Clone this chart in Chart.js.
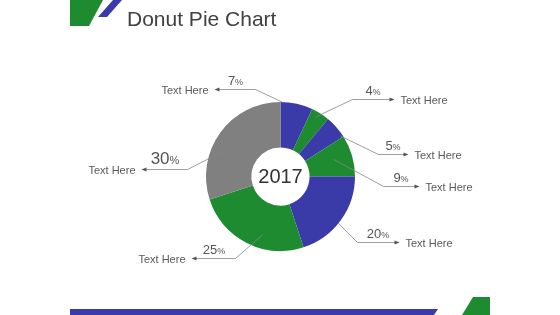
<!DOCTYPE html>
<html><head><meta charset="utf-8">
<script src="https://cdn.jsdelivr.net/npm/chart.js@4.4.1/dist/chart.umd.min.js"></script>
<style>html,body{margin:0;padding:0;background:#fff;overflow:hidden}#wrap{position:relative;width:560px;height:315px}</style>
</head><body><div id="wrap"><canvas id="c" width="560" height="315"></canvas></div>
<script>
// ---- data ----
const chartTitle = 'Donut Pie Chart';
const centerLabel = '2017';
const categories = ['Text Here', 'Text Here', 'Text Here', 'Text Here', 'Text Here', 'Text Here', 'Text Here'];
const values = [7, 4, 5, 9, 20, 25, 30];

// ---- style / layout ----
const BLUE = '#3a3aa8', GREEN = '#1f8b30', GRAY = '#808080';
const sliceColors = [BLUE, GREEN, BLUE, GREEN, BLUE, GREEN, GRAY];
// leader: t = position within slice, r = fraction of outer radius, elbow relative to centre, len = horizontal run
const leaders = [
  { t: 0.05, r: 1.0, ex: -25, ey: -87, len: -40, big: false },
  { t: 0.38, r: 0.93, ex: 72, ey: -77, len: 41, big: false },
  { t: 0.9, r: 0.97, ex: 98, ey: -22, len: 29, big: false },
  { t: 0.45, r: 0.75, ex: 103, ey: 10, len: 35, big: false },
  { t: 0.54, r: 0.99, ex: 77, ey: 66, len: 41, big: false },
  { t: 0.39, r: 0.82, ex: -45, ey: 82, len: -43, big: false },
  { t: 0.42, r: 0.80, ex: -93, ey: -7, len: -45, big: true }
];
const FONT = '"Liberation Sans", Arial, sans-serif';

const decor = {
  id: 'decor',
  beforeDraw(chart) {
    const ctx = chart.ctx;
    ctx.save();
    const poly = (pts, col) => { ctx.beginPath(); ctx.moveTo(pts[0][0], pts[0][1]); for (let i = 1; i < pts.length; i++) ctx.lineTo(pts[i][0], pts[i][1]); ctx.closePath(); ctx.fillStyle = col; ctx.fill(); };
    poly([[70, 0], [103, 0], [89, 26], [70, 26]], GREEN);
    poly([[113, 0], [122, 0], [107, 17], [98, 17]], BLUE);
    poly([[70, 309], [438, 309], [434, 315], [70, 315]], BLUE);
    poly([[462, 315], [473, 297], [490, 297], [490, 315]], GREEN);
    ctx.fillStyle = '#404040';
    ctx.font = '21px ' + FONT;
    ctx.textBaseline = 'alphabetic';
    ctx.textAlign = 'left';
    ctx.fillText(chartTitle, 127, 26);
    ctx.restore();
  },
  afterDraw(chart) {
    const ctx = chart.ctx;
    const meta = chart.getDatasetMeta(0);
    ctx.save();
    meta.data.forEach((arc, i) => {
      const L = leaders[i];
      const a = arc.startAngle + (arc.endAngle - arc.startAngle) * L.t;
      const sx = arc.x + Math.cos(a) * arc.outerRadius * L.r;
      const sy = arc.y + Math.sin(a) * arc.outerRadius * L.r;
      const exx = arc.x + L.ex, eyy = arc.y + L.ey;
      const endx = exx + L.len;
      ctx.strokeStyle = '#858585';
      ctx.lineWidth = 0.8;
      ctx.beginPath();
      ctx.moveTo(sx, sy); ctx.lineTo(exx, eyy); ctx.lineTo(endx, eyy);
      ctx.stroke();
      const dir = Math.sign(L.len);
      ctx.fillStyle = '#555';
      ctx.beginPath();
      ctx.moveTo(endx + dir * 1, eyy);
      ctx.lineTo(endx - dir * 4, eyy - 2);
      ctx.lineTo(endx - dir * 4, eyy + 2);
      ctx.closePath(); ctx.fill();
      // category text
      ctx.fillStyle = '#595959';
      ctx.font = '11px ' + FONT;
      ctx.textBaseline = 'middle';
      ctx.textAlign = dir > 0 ? 'left' : 'right';
      ctx.fillText(categories[i], endx + dir * 7, eyy + 1);
      // percentage
      const num = String(values[i]);
      const nf = (L.big ? 17 : 13) + 'px ' + FONT;
      const pf = (L.big ? 11 : 9) + 'px ' + FONT;
      ctx.font = nf; const nw = ctx.measureText(num).width;
      ctx.font = pf; const pw = ctx.measureText('%').width;
      const mid = (exx + endx) / 2;
      let x0 = mid - (nw + pw) / 2;
      const by = eyy - (L.big ? 6 : 5);
      ctx.textAlign = 'left'; ctx.textBaseline = 'alphabetic';
      ctx.fillStyle = '#555';
      ctx.font = nf; ctx.fillText(num, x0, by);
      ctx.font = pf; ctx.fillText('%', x0 + nw, by);
    });
    // centre label
    const a0 = meta.data[0];
    ctx.fillStyle = '#333';
    ctx.font = '20px ' + FONT;
    ctx.textAlign = 'center';
    ctx.textBaseline = 'middle';
    ctx.fillText(centerLabel, a0.x, a0.y + 1);
    ctx.restore();
  }
};

new Chart(document.getElementById('c'), {
  type: 'doughnut',
  data: {
    labels: categories,
    datasets: [{ data: values, backgroundColor: sliceColors, borderWidth: 0, hoverOffset: 0 }]
  },
  options: {
    responsive: false,
    animation: false,
    devicePixelRatio: 1,
    cutout: '39%',
    layout: { padding: { left: 206, right: 205, top: 102, bottom: 64 } },
    plugins: { legend: { display: false }, tooltip: { enabled: false }, title: { display: false } },
    events: []
  },
  plugins: [decor]
});
</script>
</body></html>
